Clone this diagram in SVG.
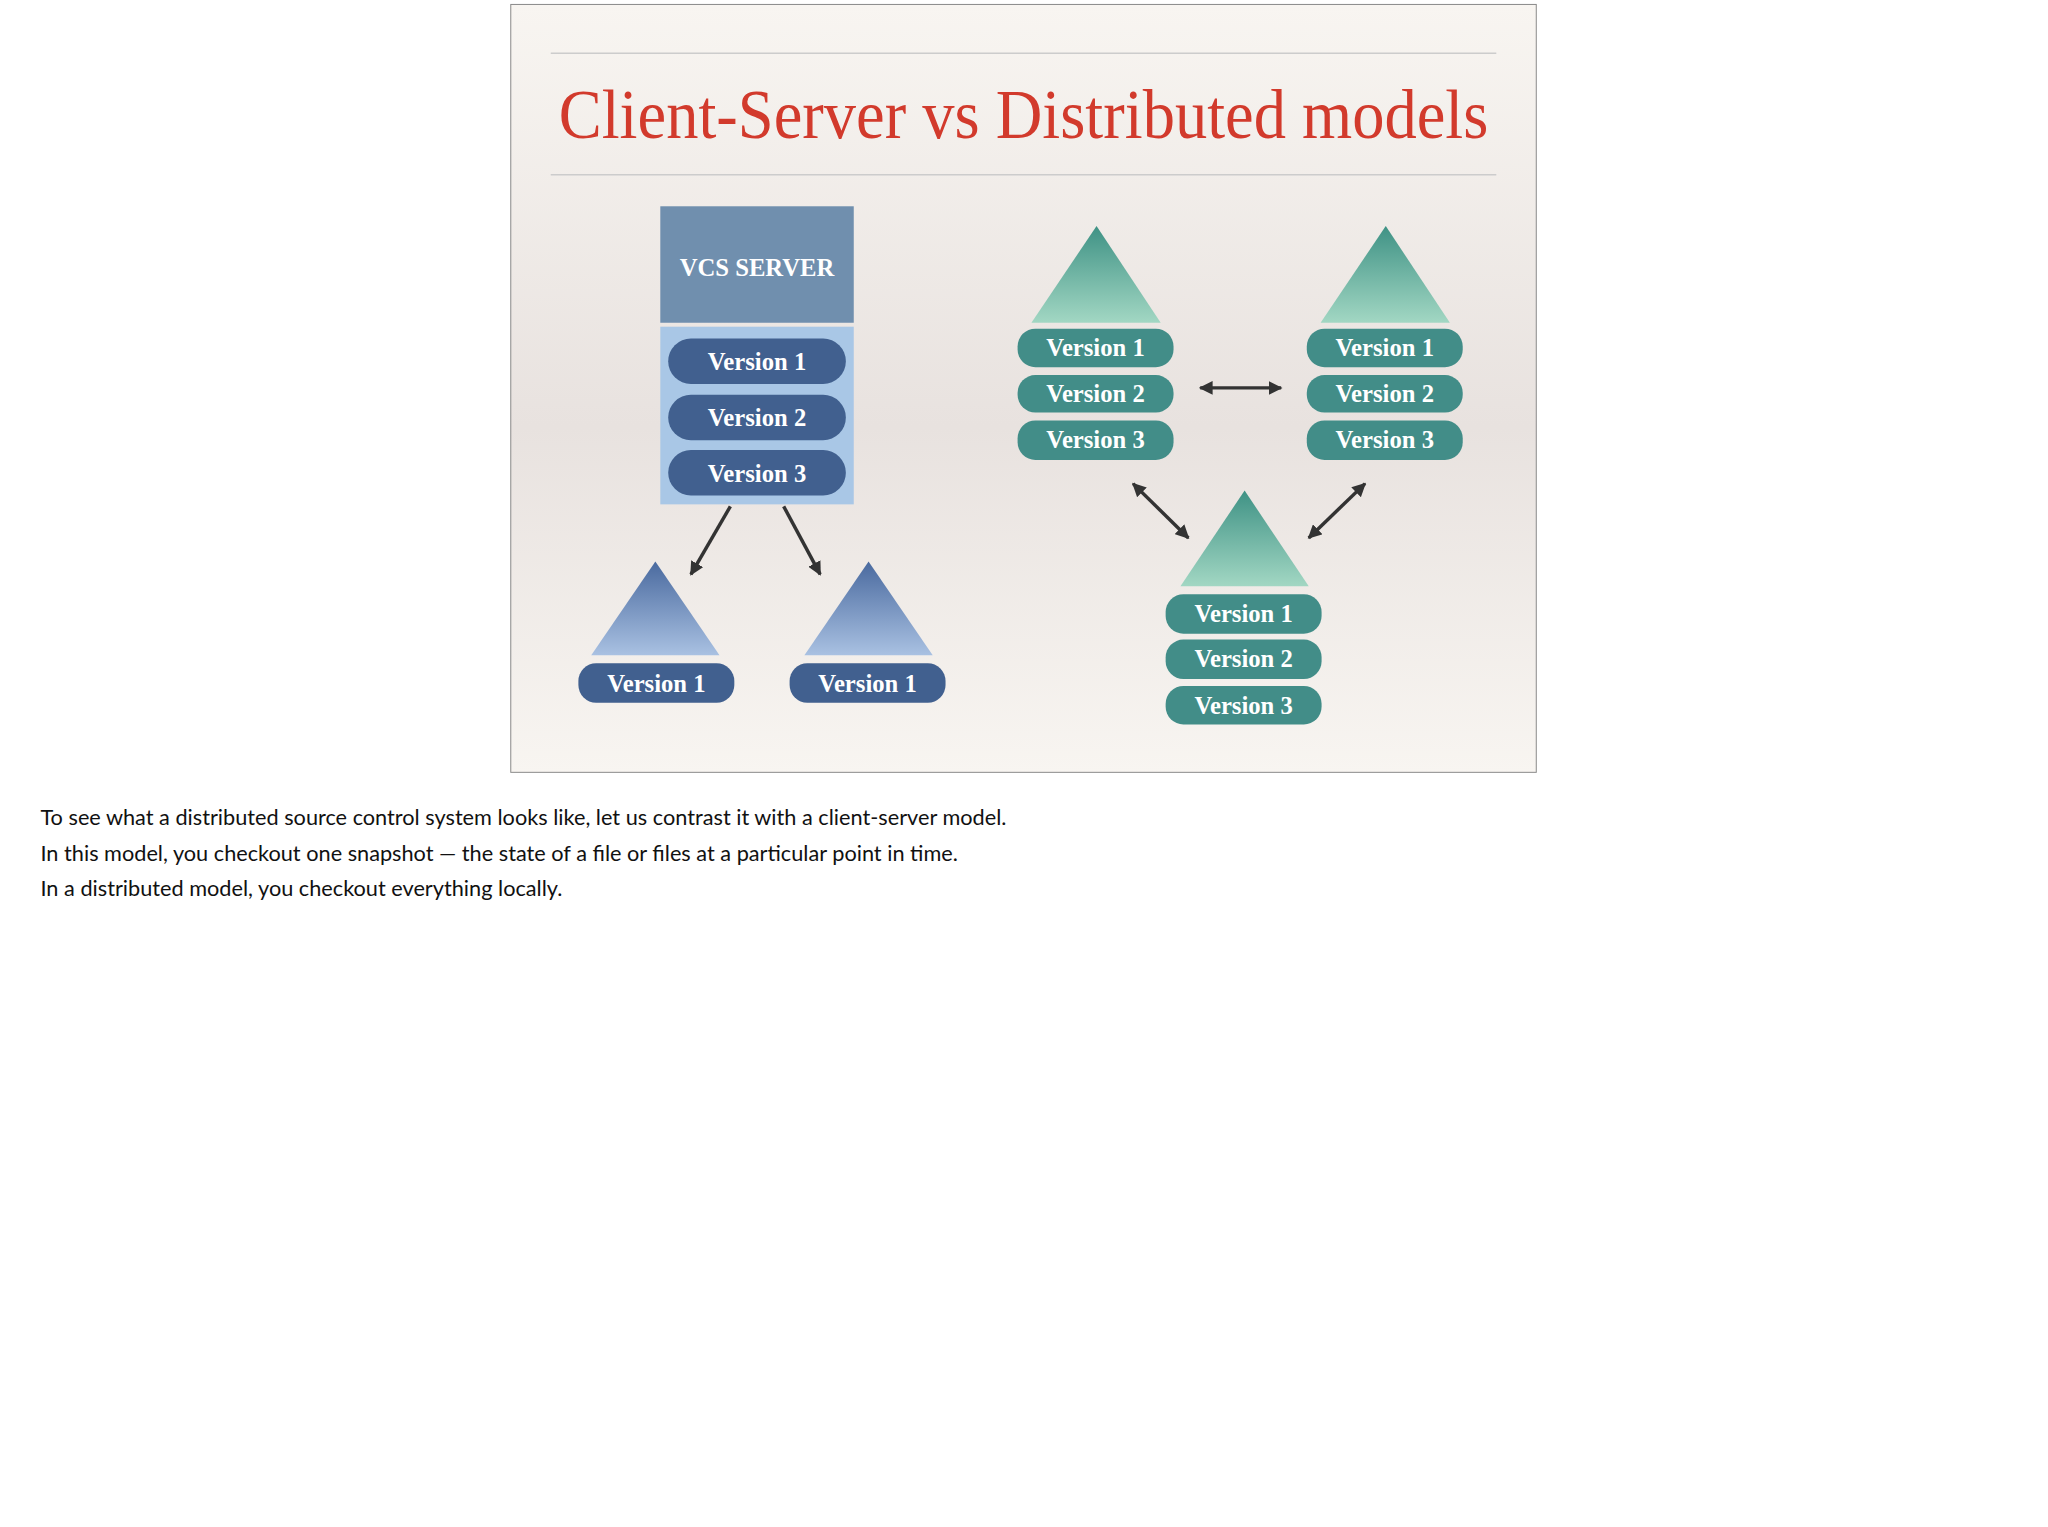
<svg xmlns="http://www.w3.org/2000/svg" width="2048" height="1527" viewBox="0 0 2048 1527">
<style>
.pb{fill:#41608f}.pt{fill:#428d88}
.pl{font-family:"Liberation Serif",serif;font-weight:bold;font-size:25px;fill:#fff;text-anchor:middle}
.nt{font-family:Lato,"Noto Sans",sans-serif;font-size:22px;fill:#111}
.c{stroke:#333;stroke-width:3.5;fill:none}
</style>
<defs>
<linearGradient id="bg" x1="0" y1="0" x2="0" y2="1"><stop offset="0" stop-color="#f8f5f1"/><stop offset="0.55" stop-color="#e8e2df"/><stop offset="1" stop-color="#f8f5f1"/></linearGradient>
<linearGradient id="tb" x1="0" y1="0" x2="0" y2="1"><stop offset="0" stop-color="#4a6a9f"/><stop offset="1" stop-color="#a9c1e2"/></linearGradient>
<linearGradient id="tg" x1="0" y1="0" x2="0" y2="1"><stop offset="0" stop-color="#3f9285"/><stop offset="1" stop-color="#a2d7c3"/></linearGradient>
<marker id="a" viewBox="0 0 10 10" refX="9" refY="5" markerWidth="4" markerHeight="4" orient="auto-start-reverse"><path d="M0,0L10,5L0,10z" fill="#333"/></marker>
</defs>
<rect width="2048" height="1527" fill="#fff"/>
<g transform="scale(0.987)">
<rect x="517.5" y="4.5" width="1039" height="778" fill="url(#bg)" stroke="#888" stroke-width="1"/>
<line x1="558" y1="54" x2="1516" y2="54" stroke="#ccc" stroke-width="1.5"/>
<line x1="558" y1="177" x2="1516" y2="177" stroke="#ccc" stroke-width="1.5"/>
<text x="1037" y="140" font-family="Liberation Serif,serif" font-size="70" fill="#d23a2c" text-anchor="middle" textLength="942" lengthAdjust="spacingAndGlyphs">Client-Server vs Distributed models</text>
<g id="server">
<rect x="669" y="209" width="196" height="118" fill="#708fae"/>
<text x="767" y="280" class="pl" font-weight="normal">VCS SERVER</text>
<rect x="669" y="331" width="196" height="180" fill="#a9c7e6"/>
<rect class="pb" x="677" y="343" width="180" height="46" rx="23"/><text class="pl" x="767" y="375">Version 1</text>
<rect class="pb" x="677" y="400" width="180" height="46" rx="23"/><text class="pl" x="767" y="432">Version 2</text>
<rect class="pb" x="677" y="456" width="180" height="46" rx="23"/><text class="pl" x="767" y="488">Version 3</text>
</g>
<g id="client1"><polygon points="664,569 599,664 729,664" fill="url(#tb)"/><rect class="pb" x="586" y="672" width="158" height="40" rx="18"/><text class="pl" x="665" y="701">Version 1</text></g>
<g id="client2"><polygon points="880,569 815,664 945,664" fill="url(#tb)"/><rect class="pb" x="800" y="672" width="158" height="40" rx="18"/><text class="pl" x="879" y="701">Version 1</text></g>
<g id="peerA"><polygon points="1111,229 1045,327 1176,327" fill="url(#tg)"/>
<rect class="pt" x="1031" y="333" width="158" height="39" rx="18"/><text class="pl" x="1110" y="361">Version 1</text>
<rect class="pt" x="1031" y="380" width="158" height="38" rx="18"/><text class="pl" x="1110" y="407">Version 2</text>
<rect class="pt" x="1031" y="426" width="158" height="40" rx="18"/><text class="pl" x="1110" y="454">Version 3</text></g>
<g id="peerB"><polygon points="1404,229 1338,327 1469,327" fill="url(#tg)"/>
<rect class="pt" x="1324" y="333" width="158" height="39" rx="18"/><text class="pl" x="1403" y="361">Version 1</text>
<rect class="pt" x="1324" y="380" width="158" height="38" rx="18"/><text class="pl" x="1403" y="407">Version 2</text>
<rect class="pt" x="1324" y="426" width="158" height="40" rx="18"/><text class="pl" x="1403" y="454">Version 3</text></g>
<g id="peerC"><polygon points="1261,497 1196,594 1326,594" fill="url(#tg)"/>
<rect class="pt" x="1181" y="602" width="158" height="40" rx="18"/><text class="pl" x="1260" y="630">Version 1</text>
<rect class="pt" x="1181" y="648" width="158" height="40" rx="18"/><text class="pl" x="1260" y="676">Version 2</text>
<rect class="pt" x="1181" y="695" width="158" height="39" rx="18"/><text class="pl" x="1260" y="723">Version 3</text></g>
<g id="connectors">
<line class="c" x1="740" y1="513" x2="700" y2="582" marker-end="url(#a)"/>
<line class="c" x1="794" y1="513" x2="831" y2="582" marker-end="url(#a)"/>
<line class="c" x1="1216" y1="393" x2="1298" y2="393" marker-start="url(#a)" marker-end="url(#a)"/>
<line class="c" x1="1148" y1="490" x2="1204" y2="545" marker-start="url(#a)" marker-end="url(#a)"/>
<line class="c" x1="1383" y1="490" x2="1326" y2="545" marker-start="url(#a)" marker-end="url(#a)"/>
</g>
<text class="nt" x="41" y="836">To see what a distributed source control system looks like, let us contrast it with a client-server model.</text>
<text class="nt" x="41" y="872">In this model, you checkout one snapshot — the state of a file or files at a particular point in time.</text>
<text class="nt" x="41" y="908">In a distributed model, you checkout everything locally.</text>
</g>
</svg>
